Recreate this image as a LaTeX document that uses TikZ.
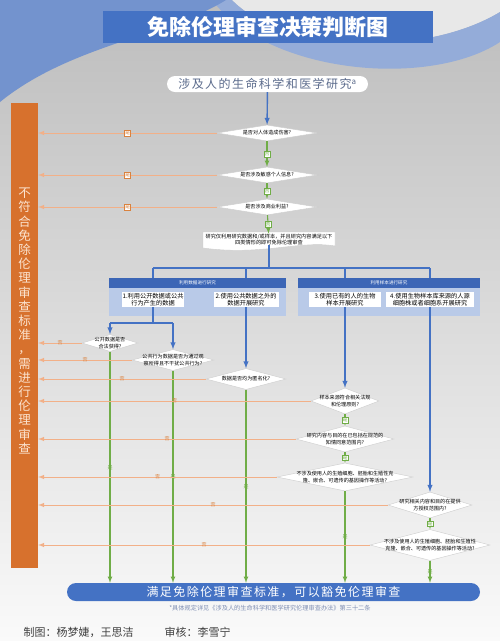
\documentclass[tikz,border=0pt]{standalone}
\usepackage{fontspec}
\setmainfont{Noto Sans CJK SC}
\newfontfamily\widefont[LetterSpace=12]{Noto Sans CJK SC}
\usetikzlibrary{shapes.geometric,positioning}
\definecolor{titleblue}{HTML}{4472C4}
\definecolor{hdrblue}{HTML}{3C66B6}
\definecolor{panelblue}{HTML}{B9CAE8}
\definecolor{bandblue}{HTML}{94ACD9}
\definecolor{topblue}{HTML}{7393CE}
\definecolor{yesgreen}{HTML}{70AD47}
\definecolor{noline}{HTML}{F2B088}
\definecolor{notext}{HTML}{D9823F}
\definecolor{barorange}{HTML}{D7712D}
\definecolor{bartext}{HTML}{FBE3CF}
\definecolor{notegray}{HTML}{7F8FB4}
\definecolor{startgray}{HTML}{5B6B8C}

\begin{document}
\begin{tikzpicture}[x=1pt, y=-1pt, >=latex,
    decision/.style={diamond, draw=gray!40, fill=white, line width=.4pt,
        inner xsep=-80pt, inner ysep=-30pt, align=center,
        font=\fontsize{5.1}{6.3}\selectfont},
    optbox/.style={fill=white, inner sep=1pt, minimum height=15pt, align=center,
        font=\fontsize{6.2}{7.4}\selectfont},
    header/.style={fill=hdrblue, text=white, minimum height=10pt, inner sep=0pt,
        font=\fontsize{4.6}{5}\selectfont},
    flow/.style={draw=titleblue, line width=1.4pt},
    yes/.style={draw=yesgreen, line width=1.1pt},
    refuse/.style={draw=noline, line width=1pt},
    tagbox/.style={fill=white, draw=#1, line width=.4pt, inner sep=.6pt,
        font=\fontsize{5}{5}\selectfont, text=#1},
    tag/.style={inner sep=.5pt, font=\fontsize{5}{5}\selectfont, text=#1}]

    % Background
    \useasboundingbox (0,0) rectangle (500,641);
    \shade[top color=gray!52, middle color=gray!36, bottom color=gray!4] (0,0) rectangle (500,641);
    \fill[gray!18] (232,0) .. controls (280,50) and (420,60) .. (500,12) -- (500,0) -- cycle;
    \fill[bandblue] (232,0) .. controls (280,50) and (420,60) .. (500,12) -- (500,42)
        .. controls (430,88) and (270,75) .. (212,0) -- cycle;
    \fill[topblue] (0,0) -- (226,0) .. controls (170,35) and (70,45) .. (0,102) -- cycle;

    % Title and start
    \node[fill=titleblue, text=white, minimum width=330pt, minimum height=32pt,
        font=\fontsize{22}{22}\selectfont\bfseries] (Title) at (268,27) {免除伦理审查决策判断图};
    \node[fill=white, rounded corners=8pt, minimum width=201pt, minimum height=16pt, inner sep=0pt,
        text=startgray, font=\widefont\fontsize{12}{12}\selectfont] (Start) at (267.5,84)
        {涉及人的生命科学和医学研究\textsuperscript{a}};

    % Reject bar
    \node[fill=barorange, minimum width=27pt, minimum height=465pt, inner sep=0pt] (Reject) at (24.5,335.5) {};
    \node[text=bartext, align=center, font=\fontsize{12.5}{14.2}\selectfont] (RejectText) at (24.5,321)
        {不\\符\\合\\免\\除\\伦\\理\\审\\查\\标\\准\\，\\需\\进\\行\\伦\\理\\审\\查};

    % Decisions
    \foreach \i/\x/\y/\w/\h/\txt in {
        1/267/133/100/16/{是否对人体造成伤害?},
        2/267/175/100/16/{是否涉及敏感个人信息?},
        3/267/207/100/16/{是否涉及商业利益?},
        4/110/343/56/17/{公开数据是否\\合法获得?},
        5/173/360/82/21/{公共行为数据是否为通过观\\察所得且不干扰公共行为?},
        6/246/379/80/21/{数据是否均为匿名化?},
        7/345/401/68/26/{样本来源符合相关法规\\和伦理原则?},
        8/345/439/98/26/{研究内容与目的在已包括在规范的\\知情同意范围内?},
        9/345/477/136/28/{不涉及使用人的生殖细胞、胚胎和生殖性克\\隆、嵌合、可遗传的基因操作等活动?},
        10/430/505/84/26/{研究相关内容和目的在提供\\方授权范围内?},
        11/430/545/120/31/{不涉及使用人的生殖细胞、胚胎和生殖性\\克隆、嵌合、可遗传的基因操作等活动?}} {
        \node[decision, minimum width=\w pt, minimum height=\h pt] (Dec-\i) at (\x,\y) {\txt};
    }

    % Scope box
    \filldraw[fill=white, draw=gray!40, line width=.4pt] (203,232) -- (335,232) -- (335,246)
        .. controls (300,240) and (262,256) .. (203,248) -- cycle;
    \node[align=center, inner sep=0pt, font=\fontsize{5.2}{6.4}\selectfont] (Scope) at (269,239.5)
        {研究仅利用研究数据和/或样本，并且研究内容满足以下\\四类情形的即可免除伦理审查};
    \coordinate (Junc) at (269,268);

    % Groups
    \node[fill=panelblue, minimum width=177pt, minimum height=38pt, inner sep=0pt] (Pan-1) at (197.5,297) {};
    \node[fill=panelblue, minimum width=182pt, minimum height=38pt, inner sep=0pt] (Pan-2) at (389,297) {};
    \node[header, minimum width=177pt] (Hdr-1) at (197.5,283) {利用数据进行研究};
    \node[header, minimum width=182pt] (Hdr-2) at (389,283) {利用样本进行研究};
    \foreach \i/\x/\w/\txt in {1/153/62/{1.利用公开数据或公共\\行为产生的数据},
        2/246/65/{2.使用公共数据之外的\\数据开展研究},
        3/345/72/{3.使用已有的人的生物\\样本开展研究},
        4/430/88/{4.使用生物样本库来源的人源\\细胞株或者细胞系开展研究}} {
        \node[optbox, minimum width=\w pt] (Opt-\i) at (\x,299.5) {\txt};
    }

    % Final
    \node[fill=titleblue, rounded corners=9pt, minimum width=413pt, minimum height=18pt, inner sep=0pt,
        text=white, font=\widefont\fontsize{12}{12}\selectfont] (Final) at (273.5,592)
        {满足免除伦理审查标准，可以豁免伦理审查};
    \node[text=notegray, font=\fontsize{6.2}{7}\selectfont] (Note) at (270,608)
        {*具体规定详见《涉及人的生命科学和医学研究伦理审查办法》第三十二条};
    \node[text=black!75, font=\fontsize{11}{12}\selectfont, anchor=west] (Maker) at (20,632) {制图：杨梦婕，王思洁};
    \node[text=black!75, font=\fontsize{11}{12}\selectfont, right=24pt of Maker] (Checker) {审核：李雪宁};

    % Blue flow
    \draw[flow, ->] (Start) -- (Dec-1);
    \draw[flow] (Scope.south) -- (Junc);
    \draw[flow] (Junc -| Opt-1.north) -- (Junc -| Opt-4.north);
    \foreach \i in {1,...,4} {
        \draw[flow] (Junc -| Opt-\i.north) -- (Opt-\i.north |- Hdr-1.north);
    }
    \coordinate (Fork) at (153,323);
    \draw[flow] (Opt-1.south) -- (Fork);
    \draw[flow] (Fork -| Dec-4.north) -- (Fork -| Dec-5.north);
    \draw[flow, ->] (Fork -| Dec-4.north) -- (Dec-4.north);
    \draw[flow, ->] (Fork -| Dec-5.north) -- (Dec-5.north);
    \draw[flow, ->] (Opt-2.south) -- (Dec-6.north);
    \draw[flow, ->] (Opt-3.south) -- (Dec-7.north);
    \draw[flow, ->] (Opt-4.south) -- (Dec-10.north);

    % Green (pass)
    \foreach \a/\b in {1/2, 2/3} {
        \draw[yes, ->] (Dec-\a) -- (Dec-\b) node[midway, tagbox=yesgreen] {否};
    }
    \draw[yes, ->] (Dec-3) -- (Scope) node[midway, tagbox=yesgreen] {否};
    \foreach \a/\b in {7/8, 8/9, 10/11} {
        \draw[yes, ->] (Dec-\a) -- (Dec-\b) node[midway, tagbox=yesgreen] {是};
    }
    \foreach \i in {4,5,6,9,11} {
        \draw[yes, ->] (Dec-\i.south) -- (Dec-\i.south |- Final.north) node[midway, tag=yesgreen] {是};
    }

    % Orange (refuse)
    \foreach \i in {1,2,3} {
        \draw[refuse, ->] (Dec-\i.west) -- (Dec-\i.west -| Reject.east) node[midway, tagbox=notext] {是};
    }
    \foreach \i in {4,...,11} {
        \draw[refuse, ->] (Dec-\i.west) -- (Dec-\i.west -| Reject.east) node[midway, tag=notext] {否};
    }
\end{tikzpicture}
\end{document}
